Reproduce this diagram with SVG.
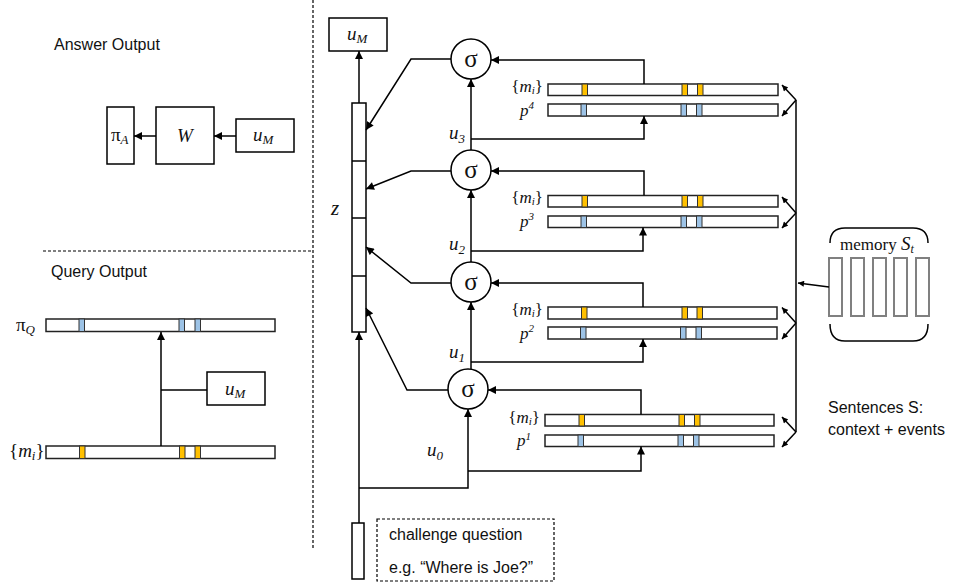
<svg xmlns="http://www.w3.org/2000/svg" width="959" height="586" viewBox="0 0 959 586">
<defs>
<style>
.ln{fill:none;stroke:#000;stroke-width:1.5}
.bx{fill:#fff;stroke:#000;stroke-width:1.5}
.bar{fill:#fff;stroke:#222;stroke-width:1.5}
.or{fill:#FFC000;stroke:#333;stroke-width:1}
.bl{fill:#9DC3E6;stroke:#333;stroke-width:1}
.dash{fill:none;stroke:#000;stroke-width:1.2;stroke-dasharray:3,2}
.sans{font-family:"Liberation Sans",Arial,sans-serif;font-size:16px;fill:#111}
.mth{font-family:"Liberation Serif","DejaVu Serif",serif;font-style:italic;font-size:19px;fill:#111}
.lab{font-family:"Liberation Serif","DejaVu Serif",serif;font-style:italic;font-size:17px;fill:#111}
.up{font-style:normal}
.sub{font-size:13px}
.sub2{font-size:11px}
.sig{font-family:"Liberation Serif","DejaVu Serif",serif;font-size:25px;fill:#111;text-anchor:middle}
.mem{fill:#fff;stroke:#808080;stroke-width:2}
</style>
<marker id="ah" viewBox="0 0 10 10" refX="10" refY="5" markerWidth="9" markerHeight="8" markerUnits="userSpaceOnUse" orient="auto"><path d="M0,0 L10,5 L0,10 z" fill="#000"/></marker>
<marker id="ahs" viewBox="0 0 10 10" refX="10" refY="5" markerWidth="7" markerHeight="6" markerUnits="userSpaceOnUse" orient="auto"><path d="M0,0 L10,5 L0,10 z" fill="#000"/></marker>
</defs>
<rect width="959" height="586" fill="#fff"/>

<g id="separators">
<line class="dash" x1="313" y1="0" x2="313" y2="548"/>
<line class="dash" x1="43" y1="251" x2="313" y2="251"/>
</g>

<g id="answer-title"><text class="sans" x="54" y="50">Answer Output</text></g>
<g id="piA"><rect class="bx" x="107" y="107" width="27" height="57"/><text class="mth" x="111" y="141"><tspan class="up">π</tspan><tspan class="sub" dy="3">A</tspan></text></g>
<g id="W"><rect class="bx" x="156" y="107" width="58" height="57"/><text class="mth" x="185" y="142" text-anchor="middle">W</text></g>
<g id="uM-answer"><rect class="bx" x="236" y="119" width="58" height="33"/><text class="mth" x="253" y="141">u<tspan class="sub" dy="3">M</tspan></text></g>

<g id="query-title"><text class="sans" x="51" y="277">Query Output</text></g>
<g id="piQ">
<text class="mth" x="16" y="331"><tspan class="up">π</tspan><tspan class="sub" dy="3">Q</tspan></text>
<rect class="bar" x="46" y="319" width="229" height="12.5"/>
<rect class="bl" x="79" y="319" width="5.5" height="12.5"/><rect class="bl" x="179" y="319" width="5.5" height="12.5"/><rect class="bl" x="195" y="319" width="5.5" height="12.5"/>
</g>
<g id="mi-query">
<text class="mth" x="9" y="457"><tspan class="up">{</tspan>m<tspan class="sub" dy="3">i</tspan><tspan class="up" dy="-3">}</tspan></text>
<rect class="bar" x="46" y="446" width="229" height="12.5"/>
<rect class="or" x="79.5" y="446" width="5.5" height="12.5"/><rect class="or" x="179.5" y="446" width="5.5" height="12.5"/><rect class="or" x="195" y="446" width="5.5" height="12.5"/>
</g>
<g id="uM-query"><rect class="bx" x="207" y="372" width="58" height="33"/><text class="mth" x="225" y="395">u<tspan class="sub" dy="3">M</tspan></text></g>

<g id="uM-top"><rect class="bx" x="329" y="18" width="58" height="33"/><text class="mth" x="347" y="40">u<tspan class="sub" dy="3">M</tspan></text></g>
<g id="z">
<rect class="bx" x="352" y="103" width="14" height="229"/>
<line class="ln" x1="352" y1="161" x2="366" y2="161"/><line class="ln" x1="352" y1="218" x2="366" y2="218"/><line class="ln" x1="352" y1="276" x2="366" y2="276"/>
<text class="mth" x="331" y="215" style="font-size:21px">z</text>
</g>
<g id="question"><rect class="bx" x="352" y="523" width="12" height="56"/></g>
<g id="question-note">
<rect class="dash" x="377" y="519" width="177" height="62"/>
<text class="sans" x="389" y="540">challenge question</text>
<text class="sans" x="389" y="573">e.g. “Where is Joe?”</text>
</g>
<g id="sigma1"><circle class="bx" cx="471" cy="59" r="20"/><text class="sig" x="471" y="67">σ</text></g>
<g id="sigma2"><circle class="bx" cx="471" cy="170" r="20"/><text class="sig" x="471" y="178">σ</text></g>
<g id="sigma3"><circle class="bx" cx="471" cy="282" r="20"/><text class="sig" x="471" y="290">σ</text></g>
<g id="sigma4"><circle class="bx" cx="468" cy="389" r="20"/><text class="sig" x="468" y="397">σ</text></g>

<g id="u-labels">
<text class="mth" x="449" y="139">u<tspan class="sub" dy="4">3</tspan></text>
<text class="mth" x="449" y="250">u<tspan class="sub" dy="4">2</tspan></text>
<text class="mth" x="449" y="358">u<tspan class="sub" dy="4">1</tspan></text>
<text class="mth" x="427" y="456">u<tspan class="sub" dy="4">0</tspan></text>
</g>

<g id="hop4">
<text class="lab" x="543" y="92" text-anchor="end"><tspan class="up">{</tspan>m<tspan class="sub2" dy="2">i</tspan><tspan class="up" dy="-2">}</tspan></text>
<text class="lab" x="520" y="116">p<tspan class="sub2" dy="-7">4</tspan></text>
<rect class="bar" x="548" y="84" width="230" height="11.5"/>
<rect class="or" x="582" y="84" width="5.5" height="11.5"/><rect class="or" x="682" y="84" width="5.5" height="11.5"/><rect class="or" x="697.5" y="84" width="5.5" height="11.5"/>
<rect class="bar" x="548" y="104" width="230" height="12"/>
<rect class="bl" x="581" y="104" width="5.5" height="12"/><rect class="bl" x="681" y="104" width="5.5" height="12"/><rect class="bl" x="696.5" y="104" width="5.5" height="12"/>
</g>
<g id="hop3">
<text class="lab" x="543" y="203" text-anchor="end"><tspan class="up">{</tspan>m<tspan class="sub2" dy="2">i</tspan><tspan class="up" dy="-2">}</tspan></text>
<text class="lab" x="520" y="227">p<tspan class="sub2" dy="-7">3</tspan></text>
<rect class="bar" x="548" y="195.5" width="230" height="11.5"/>
<rect class="or" x="582" y="195.5" width="5.5" height="11.5"/><rect class="or" x="682" y="195.5" width="5.5" height="11.5"/><rect class="or" x="697.5" y="195.5" width="5.5" height="11.5"/>
<rect class="bar" x="548" y="216" width="230" height="11.5"/>
<rect class="bl" x="581" y="216" width="5.5" height="11.5"/><rect class="bl" x="681" y="216" width="5.5" height="11.5"/><rect class="bl" x="696.5" y="216" width="5.5" height="11.5"/>
</g>
<g id="hop2">
<text class="lab" x="543" y="315" text-anchor="end"><tspan class="up">{</tspan>m<tspan class="sub2" dy="2">i</tspan><tspan class="up" dy="-2">}</tspan></text>
<text class="lab" x="520" y="339">p<tspan class="sub2" dy="-7">2</tspan></text>
<rect class="bar" x="548" y="307" width="229" height="12"/>
<rect class="or" x="581.5" y="307" width="5.5" height="12"/><rect class="or" x="682" y="307" width="5.5" height="12"/><rect class="or" x="697" y="307" width="5.5" height="12"/>
<rect class="bar" x="548" y="327" width="229" height="12"/>
<rect class="bl" x="580.5" y="327" width="5.5" height="12"/><rect class="bl" x="680.5" y="327" width="5.5" height="12"/><rect class="bl" x="696" y="327" width="5.5" height="12"/>
</g>
<g id="hop1">
<text class="lab" x="540" y="423" text-anchor="end"><tspan class="up">{</tspan>m<tspan class="sub2" dy="2">i</tspan><tspan class="up" dy="-2">}</tspan></text>
<text class="lab" x="517" y="446">p<tspan class="sub2" dy="-6">1</tspan></text>
<rect class="bar" x="545" y="414.5" width="229" height="11.5"/>
<rect class="or" x="579" y="414.5" width="5.5" height="11.5"/><rect class="or" x="679" y="414.5" width="5.5" height="11.5"/><rect class="or" x="694.5" y="414.5" width="5.5" height="11.5"/>
<rect class="bar" x="545" y="435" width="229" height="11.5"/>
<rect class="bl" x="578" y="435" width="5.5" height="11.5"/><rect class="bl" x="678" y="435" width="5.5" height="11.5"/><rect class="bl" x="693.5" y="435" width="5.5" height="11.5"/>
</g>

<g id="memory">
<path class="ln" d="M830,243 Q830,228 845,228 H913 Q928,228 928,243"/>
<path class="ln" d="M830,324 Q830,341 845,341 H913 Q928,341 928,324"/>
<text x="840" y="250" style="font-family:'Liberation Serif','DejaVu Serif',serif;font-size:17px;fill:#111">memory <tspan font-style="italic" font-size="19">S</tspan><tspan font-style="italic" font-size="12" dy="3">t</tspan></text>
<rect class="mem" x="829" y="258" width="13" height="58"/>
<rect class="mem" x="851" y="258" width="13" height="58"/>
<rect class="mem" x="873" y="258" width="13" height="58"/>
<rect class="mem" x="894" y="258" width="13" height="58"/>
<rect class="mem" x="916" y="258" width="13" height="58"/>
</g>
<g id="sentences">
<text class="sans" x="828" y="413">Sentences S:</text>
<text class="sans" x="828" y="435">context + events</text>
</g>

<g id="connectors">
<line class="ln" x1="236" y1="136" x2="214" y2="136" marker-end="url(#ah)"/>
<line class="ln" x1="156" y1="136" x2="134" y2="136" marker-end="url(#ah)"/>
<line class="ln" x1="161" y1="446" x2="161" y2="332" marker-end="url(#ah)"/>
<line class="ln" x1="161" y1="390" x2="207" y2="390"/>

<line class="ln" x1="359" y1="103" x2="359" y2="51" marker-end="url(#ah)"/>
<path class="ln" d="M451,59 H411 L366,130" marker-end="url(#ah)"/>
<path class="ln" d="M451,171 H411 L366,189" marker-end="url(#ah)"/>
<path class="ln" d="M451,283 H411 L366,247" marker-end="url(#ah)"/>
<path class="ln" d="M448,390 H407 L366,308" marker-end="url(#ah)"/>

<line class="ln" x1="471" y1="150" x2="471" y2="79" marker-end="url(#ah)"/>
<path class="ln" d="M471,139 H644 V116" marker-end="url(#ah)"/>
<line class="ln" x1="471" y1="262" x2="471" y2="190" marker-end="url(#ah)"/>
<path class="ln" d="M471,251 H643 V227.5" marker-end="url(#ah)"/>
<line class="ln" x1="471" y1="369" x2="471" y2="302" marker-end="url(#ah)"/>
<path class="ln" d="M471,362 H643 V339" marker-end="url(#ah)"/>
<path class="ln" d="M359,523 V332" marker-end="url(#ah)"/>
<path class="ln" d="M359,488 H468 V409" marker-end="url(#ah)"/>
<path class="ln" d="M468,471 H641 V446.5" marker-end="url(#ah)"/>

<path class="ln" d="M644,84 V60 H491" marker-end="url(#ah)"/>
<path class="ln" d="M644,195.5 V171 H491" marker-end="url(#ah)"/>
<path class="ln" d="M643,307 V283 H491" marker-end="url(#ah)"/>
<path class="ln" d="M641,414.5 V390 H488" marker-end="url(#ah)"/>

<line class="ln" x1="796" y1="100" x2="796" y2="432"/>
<line class="ln" x1="796" y1="100" x2="782" y2="85" marker-end="url(#ahs)"/>
<line class="ln" x1="796" y1="100" x2="782" y2="116" marker-end="url(#ahs)"/>
<line class="ln" x1="796" y1="213" x2="782" y2="197" marker-end="url(#ahs)"/>
<line class="ln" x1="796" y1="213" x2="782" y2="228" marker-end="url(#ahs)"/>
<line class="ln" x1="796" y1="323" x2="782" y2="307.5" marker-end="url(#ahs)"/>
<line class="ln" x1="796" y1="323" x2="782" y2="339" marker-end="url(#ahs)"/>
<line class="ln" x1="796" y1="432" x2="782" y2="417" marker-end="url(#ahs)"/>
<line class="ln" x1="796" y1="432" x2="782" y2="447" marker-end="url(#ahs)"/>
<line class="ln" x1="829" y1="287" x2="798" y2="283" marker-end="url(#ahs)"/>
</g>
</svg>
